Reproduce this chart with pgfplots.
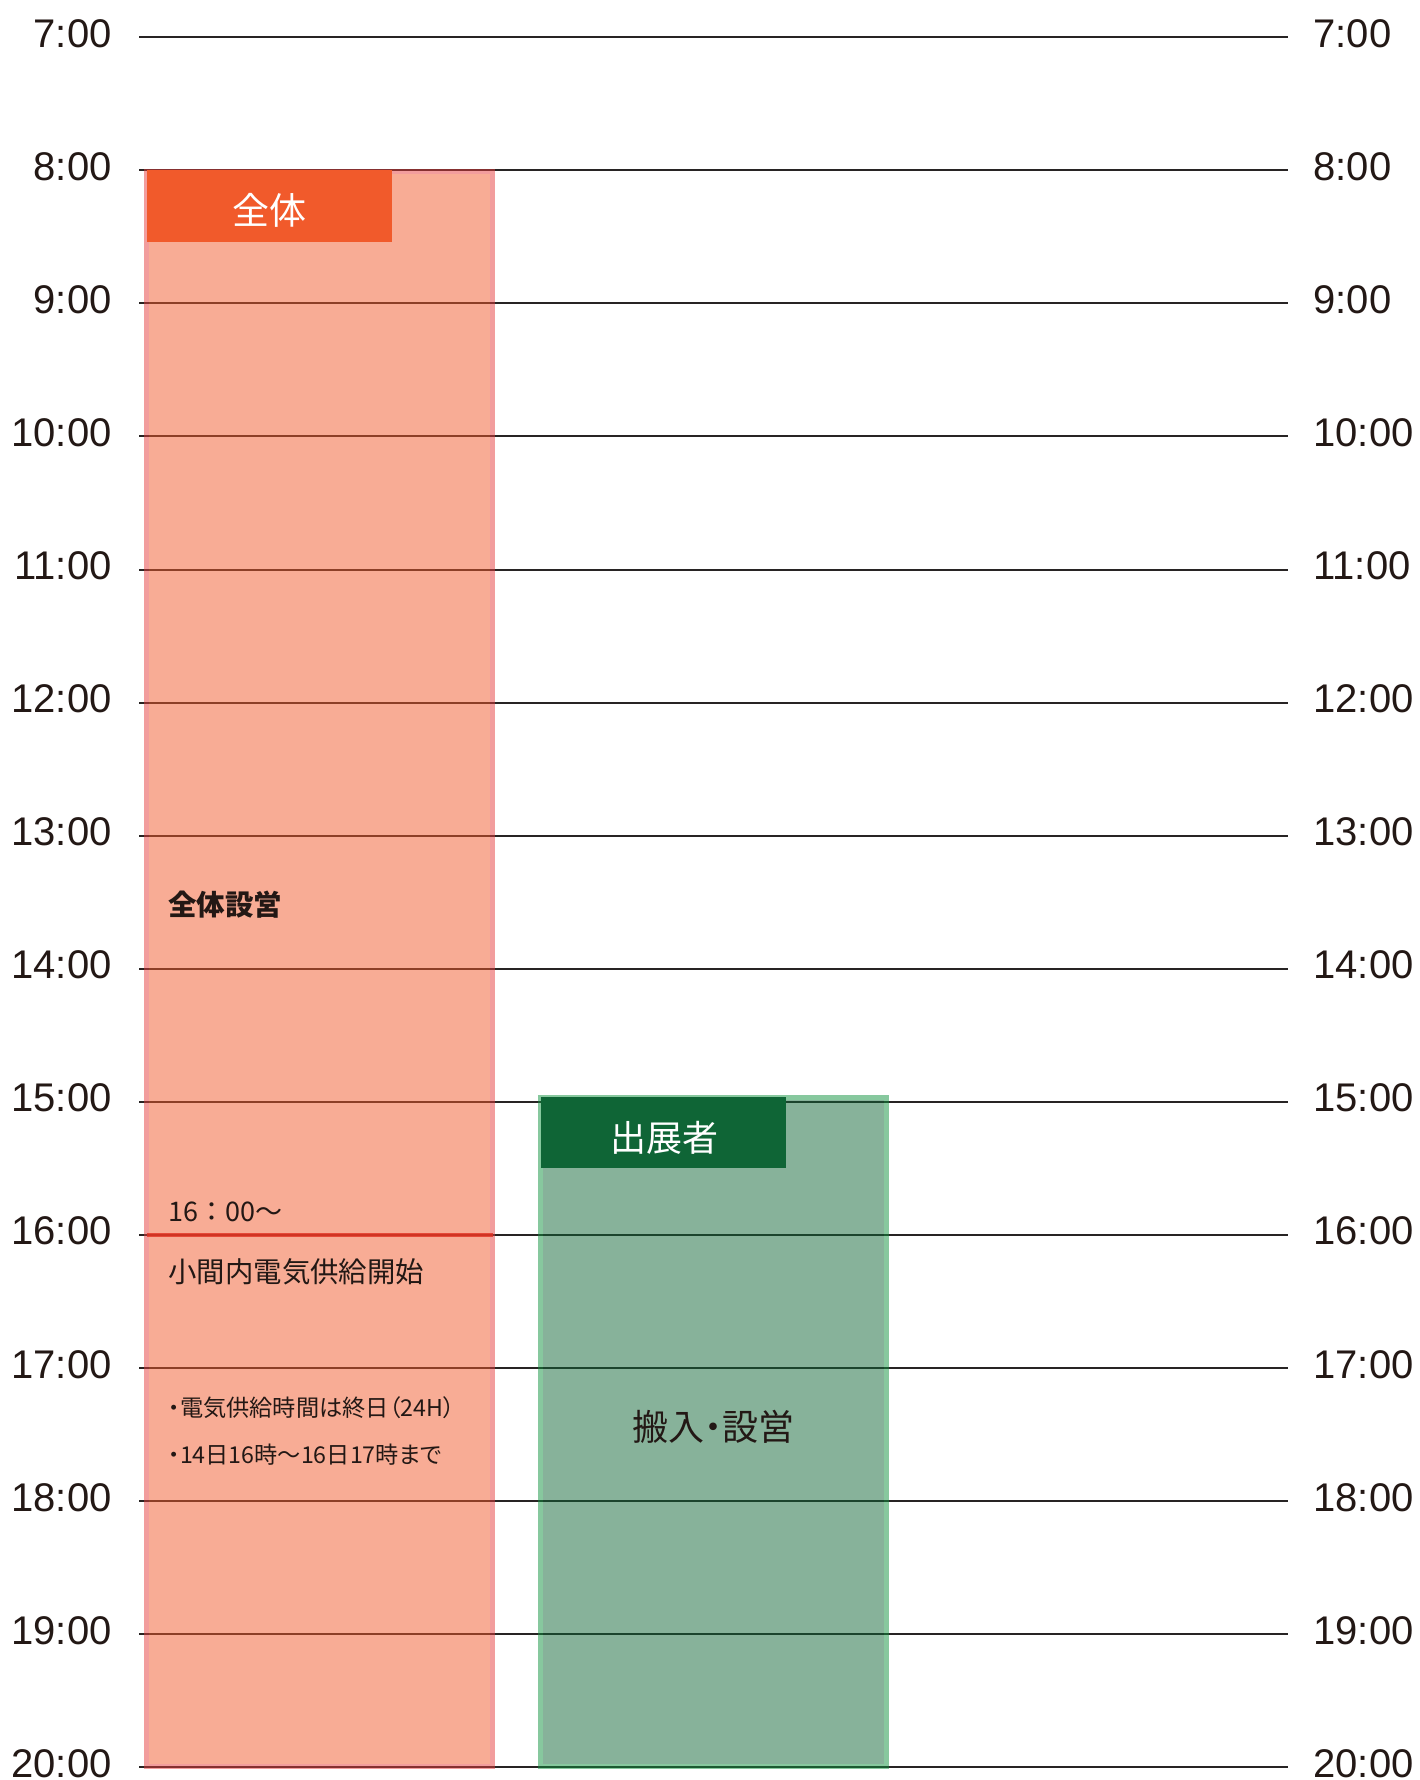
\documentclass[border=0pt]{standalone}
\usepackage{fontspec}
\setmainfont{Liberation Sans}
\newfontfamily\jp{Noto Sans CJK JP}[RawFeature=+palt]
\newfontfamily\jpn{Noto Sans CJK JP}
\usepackage{pgfplots}
\pgfplotsset{compat=1.18}
\definecolor{ink}{RGB}{35,24,21}
\definecolor{gridc}{RGB}{40,36,36}
\definecolor{redhead}{RGB}{241,90,43}
\definecolor{rededge}{RGB}{229,60,60}
\definecolor{greenhead}{RGB}{15,101,54}
\definecolor{greenedge}{RGB}{15,145,62}
\definecolor{elec}{RGB}{225,50,35}
\begin{document}
\begin{tikzpicture}
\useasboundingbox (0,0) rectangle (709.5pt,890pt);
\pgfplotsset{base/.style={
  scale only axis, width=574.5pt, height=864.85pt,
  at={(69.5pt,6.5pt)}, anchor=south west,
  xmin=139, xmax=1288, ymin=7, ymax=20, y dir=reverse,
  xtick=\empty, ytick={7,8,...,20},
  yticklabels={7:00,8:00,9:00,10:00,11:00,12:00,13:00,14:00,15:00,16:00,17:00,18:00,19:00,20:00},
  axis line style={draw=none}, major tick length=0pt, tick style={draw=none},
  yticklabel style={font=\fontsize{20}{24}\selectfont, text=ink, inner sep=0pt, yshift=1.8pt},
  clip=false}}
% layer 1: grid and translucent bars
\begin{axis}[base, ymajorgrids, grid style={draw=gridc, line width=1pt},
  yticklabel style={anchor=east, xshift=-13.5pt}]
% 全体 bar 8:00-20:00
\addplot[draw=none, fill=redhead, fill opacity=0.5, mark=none] coordinates {(149,8.024) (490,8.024) (490,19.977) (149,19.977)} -- cycle;
\addplot[draw=rededge, draw opacity=0.5, line width=2.5pt, mark=none] coordinates {(146.5,8.005) (492.5,8.005) (492.5,19.996) (146.5,19.996)} -- cycle;
% 出展者 bar 15:00-20:00
\addplot[draw=none, fill=greenhead, fill opacity=0.5, mark=none] coordinates {(543,14.985) (884,14.985) (884,19.977) (543,19.977)} -- cycle;
\addplot[draw=greenedge, draw opacity=0.5, line width=2.5pt, mark=none] coordinates {(540.5,14.966) (886.5,14.966) (886.5,19.996) (540.5,19.996)} -- cycle;
\end{axis}
% layer 2: headers, texts, right labels
\begin{axis}[base, yticklabel pos=right,
  yticklabel style={anchor=west, xshift=12.5pt}]
\addplot[draw=none, fill=redhead, mark=none] coordinates {(147,7.995) (392,7.995) (392,8.539) (147,8.539)} -- cycle;
\addplot[draw=none, fill=greenhead, mark=none] coordinates {(541,14.963) (786,14.963) (786,15.497) (541,15.497)} -- cycle;
\addplot[draw=elec, draw opacity=0.8, line width=2.2pt, mark=none] coordinates {(147,16) (493,16)};
\node[text=white, font=\jp\fontsize{18.5}{20}\selectfont] at (axis cs:269,8.30) {全体};
\node[text=white, font=\jp\fontsize{18}{20}\selectfont] at (axis cs:664,15.273) {出展者};
\node[text=ink, font=\jp\fontsize{18}{20}\selectfont] at (axis cs:713,17.445) {搬入・設営};
\node[anchor=west, inner sep=0pt, text=ink, font=\jp\bfseries\fontsize{14.25}{16}\selectfont] at (axis cs:168,13.521) {全体設営};
\node[anchor=west, inner sep=0pt, text=ink, font=\jpn\fontsize{13.5}{16}\selectfont] at (axis cs:168,15.83) {16：00〜};
\node[anchor=west, inner sep=0pt, text=ink, font=\jp\fontsize{14.2}{16}\selectfont] at (axis cs:168,16.28) {小間内電気供給開始};
\node[anchor=west, inner sep=0pt, text=ink, font=\jp\fontsize{11.6}{13}\selectfont] at (axis cs:168,17.30) {・電気供給時間は終日（24H）};
\node[anchor=west, inner sep=0pt, text=ink, font=\jp\fontsize{11.6}{13}\selectfont] at (axis cs:168,17.65) {・14日16時〜16日17時まで};
\end{axis}
\end{tikzpicture}
\end{document}
